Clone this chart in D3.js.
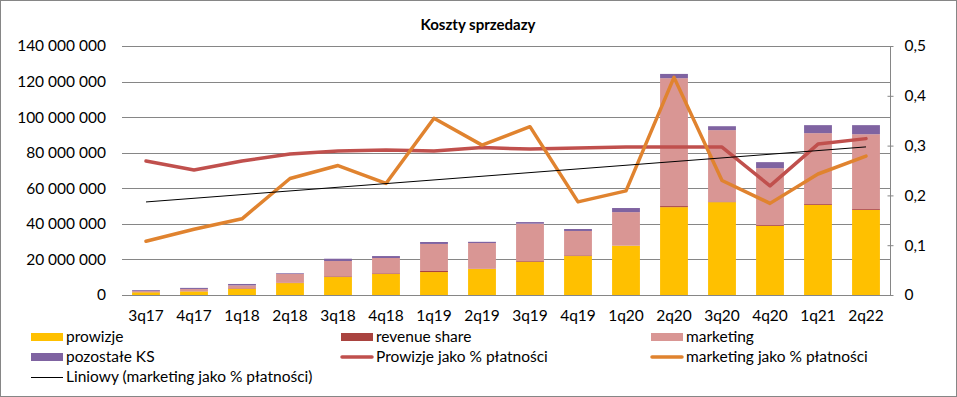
<!DOCTYPE html>
<html>
<head>
    <meta charset="utf-8">
    <title>Koszty sprzedazy</title>
    <script type="text/javascript" src="https://cdn.jsdelivr.net/npm/d3@7"></script>
    <style type="text/css">
        body {
            margin: 0;
            background: #fff;
        }
        svg {
            font-family: Lato, "Open Sans", sans-serif;
        }
        .grid line {
            stroke: #868686;
        }
    </style>
</head>
<body>
<script type="text/javascript">
    var quarters = ["3q17", "4q17", "1q18", "2q18", "3q18", "4q18", "1q19", "2q19",
        "3q19", "4q19", "1q20", "2q20", "3q20", "4q20", "1q21", "2q22"];

    var prowizje      = [1.5, 2.0, 3.5, 6.7, 10.1, 11.8, 12.9, 14.6, 18.7, 21.9, 27.7, 49.4, 52.2, 38.8, 50.6, 47.8];
    var revenueShare  = [0.1, 0.1, 0.3, 0.1, 0.4, 0.4, 0.6, 0.1, 0.4, 0.4, 0.1, 0.6, 0.4, 0.5, 0.5, 0.5];
    var marketing     = [0.6, 1.3, 1.6, 5.0, 8.6, 8.6, 15.2, 14.5, 21.0, 13.7, 18.8, 71.9, 40.1, 32.0, 39.9, 42.1];
    var pozostaleKS   = [0.5, 0.6, 0.8, 0.4, 1.3, 1.1, 1.1, 0.7, 0.9, 1.1, 2.3, 2.4, 2.2, 3.4, 4.5, 5.1];

    var prowizjePct   = [0.269, 0.251, 0.269, 0.283, 0.289, 0.291, 0.289, 0.296, 0.293, 0.295, 0.297, 0.297, 0.297, 0.219, 0.303, 0.314];
    var marketingPct  = [0.108, 0.132, 0.153, 0.234, 0.260, 0.224, 0.355, 0.301, 0.338, 0.187, 0.209, 0.437, 0.230, 0.184, 0.243, 0.279];

    var leftTicks = [0, 20e6, 40e6, 60e6, 80e6, 100e6, 120e6, 140e6];
    var rightTicks = [0, 0.1, 0.2, 0.3, 0.4, 0.5];

    var W = 957, H = 397;
    var plot = {left: 122, right: 890, top: 46, bottom: 295};
    var fs = 15.5;

    var svg = d3.select("body").append("svg")
        .attr("width", W)
        .attr("height", H);

    svg.append("rect")
        .attr("x", 0.5).attr("y", 0.5)
        .attr("width", W - 1).attr("height", H - 1)
        .attr("fill", "#fff").attr("stroke", "#868686");

    svg.append("text")
        .attr("x", 478).attr("y", 30)
        .attr("text-anchor", "middle")
        .attr("font-size", 15).attr("font-weight", "bold")
        .text("Koszty sprzedazy");

    var x = d3.scaleBand().domain(quarters).range([plot.left, plot.right]).paddingInner(0.42).paddingOuter(0.21);
    var y = d3.scaleLinear().domain([0, 140e6]).range([plot.bottom, plot.top]);
    var y2 = d3.scaleLinear().domain([0, 0.5]).range([plot.bottom, plot.top]);

    var pl = d3.formatLocale({decimal: ",", thousands: " ", grouping: [3], currency: ["", ""]});

    // gridlines
    svg.append("g").attr("class", "grid")
        .selectAll("line").data(leftTicks.slice(1)).join("line")
        .attr("x1", plot.left).attr("x2", plot.right)
        .attr("y1", function (d) {return Math.round(y(d)) + 0.5;})
        .attr("y2", function (d) {return Math.round(y(d)) + 0.5;});

    // stacked bars
    var keys = ["prowizje", "revenue share", "marketing", "pozostałe KS"];
    var colors = ["#FFC000", "#A9433F", "#D99694", "#7F63A1"];
    var rows = quarters.map(function (q, i) {
        return {q: q, "prowizje": prowizje[i] * 1e6, "revenue share": revenueShare[i] * 1e6,
            "marketing": marketing[i] * 1e6, "pozostałe KS": pozostaleKS[i] * 1e6};
    });
    var stacked = d3.stack().keys(keys)(rows);

    svg.append("g").selectAll("g").data(stacked).join("g")
        .attr("fill", function (d, i) {return colors[i];})
        .selectAll("rect").data(function (d) {return d;}).join("rect")
        .attr("x", function (d) {return x(d.data.q);})
        .attr("width", x.bandwidth())
        .attr("y", function (d) {return y(d[1]);})
        .attr("height", function (d) {return y(d[0]) - y(d[1]);});

    // axes
    var yAxis = d3.axisLeft(y).tickValues(leftTicks).tickSize(0).tickPadding(16)
        .tickFormat(pl.format(",.0f"));
    var gy = svg.append("g").attr("transform", "translate(" + plot.left + ",0)").call(yAxis);
    gy.select(".domain").remove();
    gy.selectAll("text").attr("font-size", fs).attr("fill", "#000").attr("font-family", "Lato");

    var y2Axis = d3.axisRight(y2).tickValues(rightTicks).tickSize(4).tickPadding(10)
        .tickFormat(function (d) {return d === 0 ? "0" : pl.format(".1f")(d);});
    var gy2 = svg.append("g").attr("transform", "translate(" + (plot.right + 0.5) + ",0)").call(y2Axis);
    gy2.select(".domain").attr("stroke", "#868686").attr("d", "M0," + plot.top + "V" + plot.bottom);
    gy2.selectAll(".tick line").attr("stroke", "#868686").attr("x1", -3).attr("x2", 3);
    gy2.selectAll("text").attr("font-size", fs).attr("fill", "#000").attr("font-family", "Lato");

    var xAxis = d3.axisBottom(x).tickSize(0).tickPadding(14);
    var gx = svg.append("g").attr("transform", "translate(0," + (plot.bottom + 0.5) + ")").call(xAxis);
    gx.select(".domain").attr("stroke", "#868686").attr("d", "M" + plot.left + ",0H" + plot.right);
    gx.selectAll("text").attr("font-size", fs).attr("fill", "#000").attr("font-family", "Lato");

    // lines
    var cx = function (d, i) {return x(quarters[i]) + x.bandwidth() / 2;};
    var line = d3.line().x(cx).y(function (d) {return y2(d);});

    svg.append("path").datum(prowizjePct)
        .attr("fill", "none").attr("stroke", "#C0504D").attr("stroke-width", 3.5)
        .attr("stroke-linejoin", "round").attr("stroke-linecap", "round")
        .attr("d", line);

    svg.append("path").datum(marketingPct)
        .attr("fill", "none").attr("stroke", "#E0832F").attr("stroke-width", 3.5)
        .attr("stroke-linejoin", "round").attr("stroke-linecap", "round")
        .attr("d", line);

    // linear trend of marketing %
    var n = marketingPct.length,
        mx = d3.mean(marketingPct, function (d, i) {return i;}),
        my = d3.mean(marketingPct),
        sxy = d3.sum(marketingPct, function (d, i) {return (i - mx) * (d - my);}),
        sxx = d3.sum(marketingPct, function (d, i) {return (i - mx) * (i - mx);}),
        slope = sxy / sxx,
        icpt = my - slope * mx;
    var trend = marketingPct.map(function (d, i) {return icpt + slope * i;});
    svg.append("path").datum([trend[0], trend[n - 1]])
        .attr("fill", "none").attr("stroke", "#000").attr("stroke-width", 1)
        .attr("d", d3.line()
            .x(function (d, i) {return i === 0 ? cx(d, 0) : cx(d, n - 1);})
            .y(function (d) {return y2(d);}));

    // legend
    var legend = [
        {label: "prowizje", type: "box", color: colors[0]},
        {label: "revenue share", type: "box", color: colors[1]},
        {label: "marketing", type: "box", color: colors[2]},
        {label: "pozostałe KS", type: "box", color: colors[3]},
        {label: "Prowizje jako % płatności", type: "line", color: "#C0504D"},
        {label: "marketing jako % płatności", type: "line", color: "#E0832F"},
        {label: "Liniowy (marketing jako % płatności)", type: "trend", color: "#000"}
    ];
    var colX = [31, 341, 651], rowY = [337, 357, 377];

    var lg = svg.append("g").selectAll("g").data(legend).join("g")
        .attr("transform", function (d, i) {return "translate(" + colX[i % 3] + "," + rowY[Math.floor(i / 3)] + ")";});

    lg.filter(function (d) {return d.type === "box";}).append("rect")
        .attr("x", 0).attr("y", -4).attr("width", 32).attr("height", 8)
        .attr("fill", function (d) {return d.color;});
    lg.filter(function (d) {return d.type === "line";}).append("line")
        .attr("x1", 1).attr("x2", 31).attr("y1", 0).attr("y2", 0)
        .attr("stroke", function (d) {return d.color;}).attr("stroke-width", 3.5).attr("stroke-linecap", "round");
    lg.filter(function (d) {return d.type === "trend";}).append("line")
        .attr("x1", 0).attr("x2", 32).attr("y1", 0.5).attr("y2", 0.5)
        .attr("stroke", "#000").attr("stroke-width", 1);
    lg.append("text")
        .attr("x", 35).attr("y", 0).attr("dy", "0.35em")
        .attr("font-size", fs)
        .text(function (d) {return d.label;});
</script>
</body>
</html>
